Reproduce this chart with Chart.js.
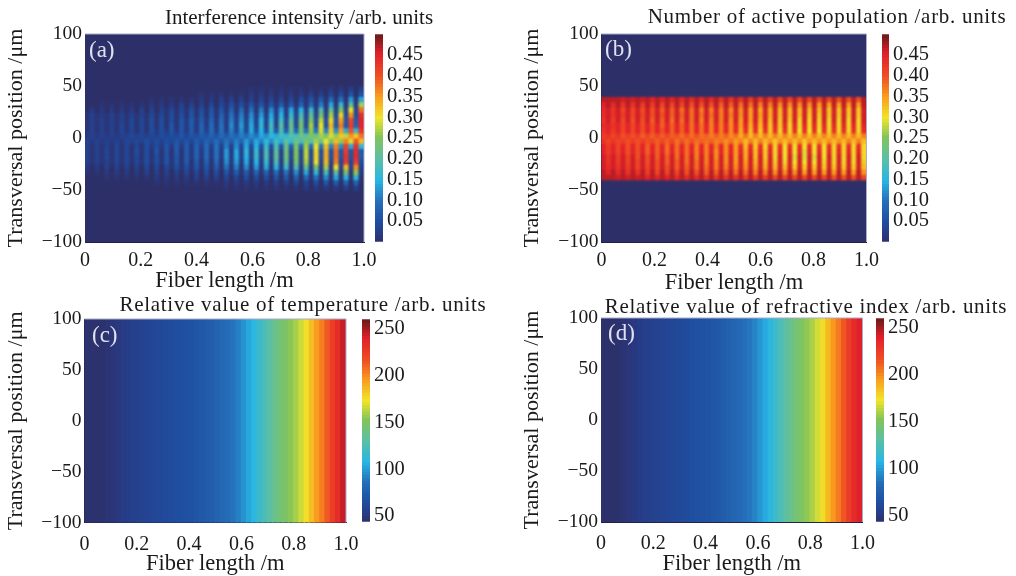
<!DOCTYPE html>
<html>
<head>
<meta charset="utf-8">
<script src="https://cdn.jsdelivr.net/npm/chart.js@4"></script>
<style>
html, body { margin: 0; background: #fff; overflow: hidden; }
canvas { position: absolute; }
.txt { position: absolute; white-space: nowrap; font-family: "Liberation Serif", serif; color: #1a1a1a; }
.ptitle { font-size: 21px; transform: translate(-50%, -50%); }
.letter { font-size: 23px; color: #dfe1ee; transform: translateY(-50%); }
</style>
</head>
<body>
<script>
'use strict';
// tick labels
const xTicks = [0, 0.2, 0.4, 0.6, 0.8, 1.0]
const yTicks = [-100, -50, 0, 50, 100]
const popTicks = [0.05, 0.10, 0.15, 0.20, 0.25, 0.30, 0.35, 0.40, 0.45]
const tempTicks = [50, 100, 150, 200, 250]

// row edges in um, top to bottom
const aEdges = [100, 50, 45, 40, 35, 30, 25, 20, 15, 10, 5, 0, -5, -10, -15, -20, -25, -30, -35, -40, -45, -50, -100]
const bEdges = [100, 40, 35, 30, 25, 20, 15, 10, 5, 0, -5, -10, -15, -20, -25, -30, -35, -40, -100]
const wholeEdges = [100, -100]

// (a) interference intensity, hundredths, +50um down to -50um
const aRows = [
  [0,0,0,0,0,0,0,0,0,0,0,0,0,0,0,0,0,0,0,0,0,0,0,0,0,0,0,0,0,0,0,0,0,1,0,1,0,1,0,1,0,1,0,1,0,1,0,1,0,2,0,2,0,3,0,3],
  [0,0,0,0,0,0,0,0,0,0,0,0,0,0,0,0,0,0,0,0,0,0,0,1,0,1,0,1,0,1,0,1,0,2,0,2,0,2,0,2,0,2,0,2,0,3,0,3,0,4,0,5,0,6,0,6],
  [0,0,0,0,0,0,0,0,0,0,0,0,0,1,0,1,0,1,0,1,0,1,0,2,0,2,0,3,0,3,0,3,0,3,0,4,0,4,0,4,0,4,0,5,1,6,1,7,1,9,1,10,1,13,1,14],
  [0,0,0,1,0,1,0,1,0,1,0,1,0,2,0,2,0,2,0,3,0,3,0,3,0,4,0,4,1,5,1,5,1,6,1,6,1,6,1,7,1,7,1,8,1,9,1,11,1,14,1,17,1,21,2,27],
  [0,2,0,2,0,2,0,2,0,2,0,3,0,3,0,3,1,4,1,4,1,5,1,5,1,6,1,6,1,8,1,9,1,10,1,11,1,12,2,13,2,14,2,15,2,17,2,19,2,22,3,25,3,30,3,38],
  [1,3,1,2,1,3,1,3,1,3,1,3,1,4,1,4,1,5,1,5,1,6,1,6,1,7,1,8,2,10,2,11,2,12,2,13,2,14,2,15,2,17,3,19,3,21,3,24,3,27,4,31,4,36,5,44],
  [1,3,1,3,1,3,1,3,1,4,1,4,1,5,1,5,1,5,1,6,2,7,2,7,2,8,2,9,2,11,3,12,3,13,3,15,3,16,3,18,4,20,4,22,4,25,5,28,5,31,6,35,6,41,7,45],
  [1,3,1,3,1,3,1,4,1,4,1,4,1,5,1,5,1,6,1,6,2,7,2,8,2,9,2,10,2,12,3,13,3,14,3,16,3,18,3,20,4,22,4,24,4,27,5,30,5,33,6,37,6,42,8,45],
  [1,3,1,3,1,3,1,4,1,4,1,4,1,5,2,5,2,6,2,6,2,7,2,8,3,9,3,10,3,11,4,12,4,14,5,15,5,17,6,19,7,21,8,23,9,26,10,29,11,32,12,35,14,40,16,43],
  [2,3,2,3,2,3,2,3,3,4,3,4,3,4,3,5,4,5,4,6,4,6,5,7,6,8,6,9,7,10,8,11,9,12,10,14,12,16,14,18,16,20,18,23,20,25,22,27,24,29,26,32,28,36,32,38],
  [3,2,3,2,3,2,3,2,4,3,4,3,5,3,5,3,5,4,6,4,6,4,7,5,8,6,9,6,10,7,11,8,13,9,14,11,16,12,18,14,21,16,23,18,25,20,27,22,30,24,33,26,37,29,40,33],
  [3,1,3,1,3,1,4,1,4,1,4,1,5,2,5,2,6,2,7,2,7,2,8,3,9,3,10,3,11,3,12,4,14,4,15,5,17,5,19,6,22,7,24,8,27,9,30,10,33,11,37,12,42,14,44,16],
  [3,1,3,1,4,1,4,1,4,1,5,1,5,1,6,1,6,1,7,1,7,2,8,2,9,2,10,2,13,2,14,3,16,3,17,3,19,3,21,3,23,4,25,4,28,4,31,5,34,5,38,6,42,6,44,7],
  [3,1,3,1,4,1,4,1,4,1,4,1,5,1,5,1,6,1,6,1,7,2,8,2,9,2,10,2,13,2,14,3,15,3,17,3,19,3,21,3,23,4,25,4,28,4,31,5,34,5,38,6,43,6,44,7],
  [3,1,3,1,3,1,4,1,4,1,4,1,5,1,5,1,6,1,6,1,7,1,7,1,8,1,9,1,12,2,13,2,14,2,15,2,17,2,19,2,21,2,24,3,27,3,30,3,33,3,37,4,42,4,42,5],
  [2,0,2,0,3,0,3,0,3,0,3,0,4,0,4,0,4,1,5,1,5,1,6,1,6,1,7,1,10,1,11,1,12,1,13,1,14,1,15,2,17,2,19,2,22,2,24,2,27,2,30,3,33,3,36,3],
  [1,0,1,0,2,0,2,0,2,0,2,0,3,0,3,0,3,0,3,0,4,0,4,0,5,0,5,0,6,1,7,1,7,1,8,1,8,1,9,1,10,1,12,1,14,1,16,1,18,1,21,1,24,1,26,2],
  [0,0,0,0,1,0,1,0,1,0,1,0,1,0,2,0,2,0,2,0,2,0,3,0,3,0,3,0,4,0,4,0,5,0,5,0,5,0,6,0,7,0,8,0,9,1,10,1,12,1,14,1,15,1,16,1],
  [0,0,0,0,0,0,0,0,0,0,0,0,0,0,1,0,1,0,1,0,1,0,1,0,1,0,1,0,2,0,2,0,2,0,2,0,2,0,3,0,3,0,4,0,4,0,5,0,6,0,7,0,8,0,8,0],
  [0,0,0,0,0,0,0,0,0,0,0,0,0,0,0,0,0,0,0,0,0,0,0,0,0,0,0,0,1,0,1,0,1,0,1,0,1,0,1,0,1,0,1,0,2,0,2,0,2,0,2,0,3,0,3,0]
]

// (b) active population, hundredths, +40um down to -40um
const bRows = [
  [47,47,47,47,46,47,46,47,46,47,45,47,45,47,45,47,44,47,44,47,44,47,44,47,43,47,43,47,43,47,42,47,42,47,42,47,41,47,41,47,41,47,41,47,41,47,41,47,40,47,40,47,40,47],
  [45,47,44,47,43,47,43,47,42,47,42,47,41,47,41,47,41,47,40,47,40,47,40,47,39,47,39,47,38,47,38,47,37,47,37,47,36,47,36,47,36,47,36,47,35,47,35,47,35,47,35,47,35,47],
  [44,46,43,46,41,46,41,46,40,46,40,46,39,46,39,46,38,46,38,46,37,46,37,46,37,46,36,46,36,46,35,46,34,46,34,46,33,46,33,46,33,46,33,46,33,46,32,46,32,46,32,46,32,46],
  [44,46,43,46,42,46,41,46,41,46,40,46,40,46,39,46,39,46,38,46,38,46,38,46,37,46,37,46,36,46,35,46,35,46,34,46,33,46,33,46,33,46,32,46,32,46,32,46,32,46,32,46,32,46],
  [43,46,42,46,41,46,40,46,40,46,39,46,39,46,38,46,38,46,38,46,37,46,37,46,37,46,36,46,35,46,35,46,34,46,33,46,32,46,32,46,31,46,31,46,31,46,31,46,31,46,31,46,31,46],
  [44,45,43,45,41,45,41,45,40,45,40,45,39,45,39,45,39,45,38,45,38,45,37,45,37,45,36,45,35,45,34,45,33,45,32,45,32,45,31,45,31,45,31,45,31,45,31,45,31,45,31,45,31,45],
  [43,45,42,45,41,45,41,45,40,45,40,45,40,45,39,45,39,45,38,45,38,45,37,45,37,45,36,45,34,44,33,44,32,44,32,44,31,44,31,44,30,44,30,44,30,44,31,44,31,44,31,44,31,44],
  [42,43,41,43,40,42,40,42,39,41,39,41,39,41,39,40,38,40,38,40,38,39,37,39,37,39,36,38,34,38,33,37,33,37,33,37,33,37,33,37,33,37,33,37,33,37,33,37,33,37,33,37,33,37],
  [43,41,43,41,42,40,42,40,42,40,41,39,41,39,41,38,40,38,40,38,39,38,39,37,38,36,38,35,37,33,37,33,37,33,36,32,36,33,36,33,36,32,36,33,36,33,36,33,36,33,37,33,37,33],
  [45,42,45,41,45,40,45,40,45,39,45,39,45,38,45,38,45,38,45,37,45,37,45,37,45,36,45,35,44,33,44,32,44,31,44,31,44,30,44,30,44,30,44,30,44,30,44,31,44,31,44,31,44,31],
  [45,42,45,41,45,40,45,40,45,39,45,39,45,38,45,38,45,38,45,37,45,37,45,36,45,36,45,35,45,34,45,33,45,32,45,31,45,30,45,30,45,29,45,30,45,30,45,31,45,31,45,31,45,31],
  [46,43,46,42,46,41,46,40,46,40,46,39,46,39,46,38,46,38,46,37,46,37,46,36,46,36,46,35,46,34,46,33,46,32,46,31,46,30,46,29,46,29,46,29,46,30,46,31,46,31,46,31,46,31],
  [46,43,46,42,46,41,46,41,46,40,46,40,46,39,46,39,46,38,46,38,46,37,46,37,46,36,46,35,46,35,46,34,46,33,46,32,46,31,46,30,46,30,46,30,46,31,46,31,46,31,46,31,46,32],
  [46,44,46,43,46,42,46,41,46,41,46,40,46,40,46,39,46,39,46,38,46,38,46,37,46,37,46,36,46,36,46,35,46,34,46,33,46,33,46,32,46,32,46,32,46,32,46,32,46,32,46,32,46,33],
  [47,45,47,44,47,43,47,43,47,42,47,41,47,41,47,41,47,40,47,40,47,39,47,39,47,39,47,38,47,38,47,37,47,37,47,36,47,36,47,36,47,35,47,35,47,35,47,35,47,35,47,35,47,36],
  [47,47,47,46,47,46,47,46,47,45,47,45,47,45,47,44,47,44,47,44,47,43,47,43,47,43,47,43,47,42,47,42,47,42,47,41,47,41,47,41,47,41,47,41,47,41,47,40,47,40,47,40,47,41]
]

// (c) and (d) hardly change across the fibre, so one row of columns each
const cColumns = [46,46,46,46,48,49,51,53,55,57,58,59,60,61,62,63,64,65,66,67,68,70,72,74,76,79,82,85,88,92,98,104,110,117,124,131,138,145,150,155,160,167,175,186,196,204,214,225,234,245]
const dColumns = [45,45,45,46,48,50,52,54,56,57,58,59,60,61,62,63,64,66,67,68,69,71,73,75,77,80,83,86,89,93,99,105,111,118,125,132,139,146,151,156,161,168,176,187,197,205,215,226,235,241]

// jet like colormap as printed: stop, r, g, b
const colorStops = [
  [0.00, 45, 48, 104], [0.04, 40, 58, 132], [0.104, 31, 79, 161], [0.20, 38, 112, 186],
  [0.297, 39, 182, 228], [0.41, 95, 192, 160], [0.506, 130, 196, 90], [0.60, 240, 229, 42],
  [0.698, 249, 160, 30], [0.80, 239, 79, 36], [0.907, 227, 32, 42], [1.00, 107, 26, 26]
]

function jet(t) {
  t = Math.min(1, Math.max(0, t))
  let i = 0
  while (i < colorStops.length - 2 && t > colorStops[i + 1][0]) i++
  const a = colorStops[i], b = colorStops[i + 1]
  const f = (t - a[0]) / (b[0] - a[0])
  return `rgb(${a[1] + (b[1] - a[1]) * f},${a[2] + (b[2] - a[2]) * f},${a[3] + (b[3] - a[3]) * f})`
}

const serif = 'Liberation Serif'
const inkColor = '#1a1a1a'

// softens the cell grid like the printed figure and draws the thin plot frame
const softenPlugin = {
  id: 'soften',
  afterDatasetsDraw(chart, args, opts) {
    const a = chart.chartArea, ctx = chart.ctx
    ctx.save()
    ctx.beginPath()
    ctx.rect(a.left, a.top, a.width, a.height)
    ctx.clip()
    ctx.filter = `blur(${opts.radius}px)`
    ctx.drawImage(chart.canvas, a.left, a.top, a.width, a.height, a.left, a.top, a.width, a.height)
    ctx.restore()
    ctx.save()
    ctx.strokeStyle = '#a9abc9'
    ctx.lineWidth = 1
    ctx.beginPath()
    ctx.moveTo(a.left, a.top)
    ctx.lineTo(a.right, a.top)
    ctx.lineTo(a.right, a.bottom)
    ctx.stroke()
    ctx.restore()
  }
}

function addCanvas(left, top, width, height) {
  const c = document.createElement('canvas')
  c.width = width
  c.height = height
  c.style.left = left + 'px'
  c.style.top = top + 'px'
  document.body.appendChild(c)
  return c
}

function addText(cls, text, x, y, spacing) {
  const d = document.createElement('div')
  d.className = 'txt ' + cls
  d.textContent = text
  d.style.left = x + 'px'
  d.style.top = y + 'px'
  if (spacing) d.style.letterSpacing = spacing + 'px'
  document.body.appendChild(d)
}

function createHeatChart(p) {
  const canvas = addCanvas(p.left, p.top, p.width, p.height)
  const empty = p.rows[0].map(() => 0)
  const rows = p.padded ? [empty, ...p.rows, empty] : p.rows
  const datasets = rows.map((row, r) => ({
    data: row.map((v, i) => ({ x: (i + 0.5) / row.length, y: [p.edges[r + 1], p.edges[r]] })),
    backgroundColor: row.map(v => jet((v * p.scale - p.min) / (p.max - p.min))),
    grouped: false,
    barPercentage: 1,
    categoryPercentage: 1,
    inflateAmount: 0.6,
    borderWidth: 0
  }))
  return new Chart(canvas, {
    type: 'bar',
    data: { datasets },
    options: {
      responsive: false,
      animation: false,
      events: [],
      layout: { padding: { top: p.plotTop - p.top, right: p.left + p.width - p.plotRight, left: 0, bottom: 0 } },
      plugins: { legend: { display: false }, tooltip: { enabled: false }, soften: { radius: p.blur } },
      scales: {
        x: {
          type: 'linear', min: 0, max: 1, offset: false,
          grid: { display: false, drawTicks: false },
          border: { color: '#23234a' },
          afterBuildTicks: s => { s.ticks = xTicks.map(value => ({ value })) },
          afterFit: s => { s.height = p.top + p.height - p.plotBottom },
          ticks: {
            color: inkColor, padding: p.xTickPad, maxRotation: 0, autoSkip: false,
            font: { family: serif, size: 20 },
            callback: v => v === 0 ? '0' : v.toFixed(1)
          },
          title: { display: true, text: 'Fiber length /m', color: inkColor, padding: 0, font: { family: serif, size: 22.5 } }
        },
        y: {
          min: -100, max: 100,
          grid: { display: false, drawTicks: false },
          border: { color: '#23234a' },
          afterBuildTicks: s => { s.ticks = yTicks.map(value => ({ value })) },
          afterFit: s => { s.width = p.plotLeft - p.left },
          ticks: {
            color: inkColor, padding: 3, autoSkip: false,
            font: { family: serif, size: 19.5 },
            callback: v => String(v).replace('-', '\u2212')
          },
          title: { display: true, text: 'Transversal position /\u03bcm', color: inkColor, padding: { top: 3, bottom: 0 }, font: { family: serif, size: 22 } }
        }
      }
    },
    plugins: [softenPlugin]
  })
}

function createColorBar(p) {
  const pad = 16, barW = p.barRight - p.barLeft
  const canvas = addCanvas(p.barLeft, p.plotTop - pad, barW + 60, p.plotBottom - p.plotTop + pad * 2)
  const levels = []
  for (let i = 0; i < 64; i++) levels.push(p.min + (p.max - p.min) * (i + 0.5) / 64)
  return new Chart(canvas, {
    type: 'bar',
    data: {
      datasets: [{
        data: levels.map(v => ({ x: 1, y: v })),
        backgroundColor: levels.map(v => jet((v - p.min) / (p.max - p.min))),
        barPercentage: 1,
        categoryPercentage: 1,
        inflateAmount: 0.6,
        borderWidth: 0
      }]
    },
    options: {
      indexAxis: 'y',
      responsive: false,
      animation: false,
      events: [],
      layout: { padding: { top: pad, bottom: pad, left: 0, right: 0 } },
      plugins: { legend: { display: false }, tooltip: { enabled: false } },
      scales: {
        x: { type: 'linear', min: 0, max: 1, display: false },
        y: {
          type: 'linear', position: 'right', min: p.min, max: p.max, offset: false,
          grid: { display: false, drawTicks: false },
          border: { display: false },
          afterBuildTicks: s => { s.ticks = p.barTicks.map(value => ({ value })) },
          afterFit: s => { s.width = 60 },
          ticks: {
            color: inkColor, padding: 4, autoSkip: false,
            font: { family: serif, size: 20.5 },
            callback: v => p.digits ? v.toFixed(p.digits) : String(v)
          }
        }
      }
    }
  })
}

const panels = [
  { left: 0, top: 10, width: 516, height: 285, plotLeft: 85, plotRight: 364, plotTop: 34, plotBottom: 242, xTickPad: 7,
    rows: aRows, edges: aEdges, padded: true, scale: 0.01, min: 0, max: 0.5, blur: 0.9,
    barLeft: 375, barRight: 383, barTicks: popTicks, digits: 2,
    title: 'Interference intensity /arb. units', titleX: 299, titleY: 17, spacing: 0, letter: '(a)', letterX: 89, letterY: 50 },
  { left: 516, top: 10, width: 500, height: 287, plotLeft: 601.5, plotRight: 866.5, plotTop: 34, plotBottom: 242, xTickPad: 7,
    rows: bRows, edges: bEdges, padded: true, scale: 0.01, min: 0, max: 0.5, blur: 0.9,
    barLeft: 882, barRight: 889, barTicks: popTicks, digits: 2,
    title: 'Number of active population /arb. units', titleX: 827, titleY: 16, spacing: 0.7, letter: '(b)', letterX: 605, letterY: 49 },
  { left: 0, top: 295, width: 516, height: 283, plotLeft: 84.5, plotRight: 346, plotTop: 319, plotBottom: 522.5, xTickPad: 10,
    rows: [cColumns], edges: wholeEdges, padded: false, scale: 1, min: 44, max: 260, blur: 0.5,
    barLeft: 362, barRight: 370, barTicks: tempTicks, digits: 0,
    title: 'Relative value of temperature /arb. units', titleX: 303, titleY: 304, spacing: 0.7, letter: '(c)', letterX: 92, letterY: 335 },
  { left: 516, top: 295, width: 500, height: 283, plotLeft: 601, plotRight: 862.5, plotTop: 318, plotBottom: 522, xTickPad: 10,
    rows: [dColumns], edges: wholeEdges, padded: false, scale: 1, min: 44, max: 260, blur: 0.5,
    barLeft: 876, barRight: 884, barTicks: tempTicks, digits: 0,
    title: 'Relative value of refractive index /arb. units', titleX: 806, titleY: 306, spacing: 0.7, letter: '(d)', letterX: 608, letterY: 333 }
]

for (const p of panels) {
  createHeatChart(p)
  createColorBar(p)
  addText('ptitle', p.title, p.titleX, p.titleY, p.spacing)
  addText('letter', p.letter, p.letterX, p.letterY)
}
</script>
</body>
</html>
